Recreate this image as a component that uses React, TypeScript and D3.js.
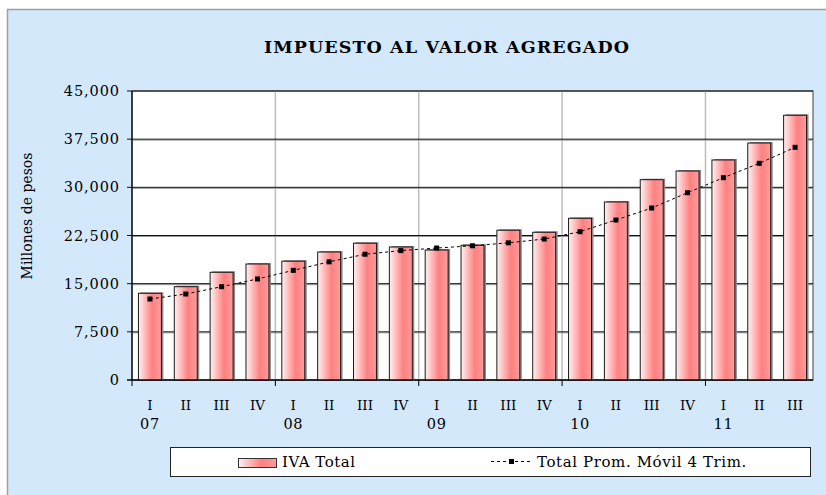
import React from 'react';
import * as d3 from 'd3';

const quarters = ['I', 'II', 'III', 'IV', 'I', 'II', 'III', 'IV', 'I', 'II', 'III', 'IV', 'I', 'II', 'III', 'IV', 'I', 'II', 'III'];
const yearLabels = ['07', '', '', '', '08', '', '', '', '09', '', '', '', '10', '', '', '', '11', '', ''];
const ivaTotal = [13500, 14530, 16770, 18060, 18500, 19930, 21300, 20710, 20240, 20980, 23320, 23000, 25180, 27720, 31190, 32540, 34260, 36900, 41220];
const movAvg = [12610, 13390, 14530, 15730, 17070, 18400, 19580, 20150, 20550, 20900, 21360, 21950, 23090, 24910, 26780, 29160, 31500, 33740, 36230];
const yTicks = [0, 7500, 15000, 22500, 30000, 37500, 45000];

const W = 826;
const H = 495;
const plot = { left: 132, right: 813, top: 91, bottom: 380 };
const font = '"DejaVu Serif", serif';

export default function App() {
  const idx = quarters.map((_, i) => i);
  const x = d3.scaleBand<number>()
    .domain(idx)
    .range([plot.left, plot.right])
    .paddingInner(0.36)
    .paddingOuter(0.18);
  const y = d3.scaleLinear().domain([0, 45000]).range([plot.bottom, plot.top]);
  const fmt = d3.format(',');
  const cx = (i: number) => (x(i) as number) + x.bandwidth() / 2;

  const line = d3.line<number>()
    .x((_, i) => cx(i))
    .y(d => y(d));

  // year boundaries (every 4 quarters)
  const yearEdges = idx.filter(i => i % 4 === 0 && i > 0).map(i => (x(i) as number) - x.step() * x.paddingInner() / 2);

  return (
    <svg width={W} height={H} style={{ position: 'absolute', left: 0, top: 0 }}>
      <defs>
        <linearGradient id="barGrad" x1="0" x2="1" y1="0" y2="0">
          <stop offset="0%" stopColor="#FFF2F2" />
          <stop offset="60%" stopColor="#FF8080" />
          <stop offset="100%" stopColor="#FF9C9C" />
        </linearGradient>
      </defs>
      <rect x={0} y={0} width={W} height={H} fill="#fff" />
      <rect x={7.5} y={9.5} width={W} height={H} fill="#D4E8FC" stroke="#A0A0A0" strokeWidth={1.5} />

      <text x={447} y={53} textAnchor="middle" fontFamily={font} fontWeight="bold" fontSize={17.5} letterSpacing={1.1}>
        IMPUESTO AL VALOR AGREGADO
      </text>

      {/* plot area */}
      <rect x={plot.left} y={plot.top} width={plot.right - plot.left} height={plot.bottom - plot.top} fill="#fff" stroke="#404040" strokeWidth={1} />

      {yearEdges.map((ex, i) => (
        <line key={'v' + i} x1={ex} x2={ex} y1={plot.top} y2={plot.bottom} stroke="#BDBDBD" strokeWidth={1.5} />
      ))}

      {yTicks.map(t => (
        <g key={t}>
          {t > 0 && t < 45000 && (
            <line x1={plot.left} x2={plot.right} y1={y(t) + 1} y2={y(t) + 1} stroke="#9A9A9A" strokeWidth={1} />
          )}
          <line x1={plot.left - 5} x2={plot.right} y1={y(t)} y2={y(t)} stroke="#111" strokeWidth={1} />
          <text x={plot.left - 12} y={y(t)} dy="0.35em" textAnchor="end" fontFamily={font} fontSize={14.5} letterSpacing={0.9}>
            {fmt(t)}
          </text>
        </g>
      ))}

      {ivaTotal.map((v, i) => (
        <g key={'b' + i}>
          <rect x={(x(i) as number) + 2} y={y(v) - 1} width={x.bandwidth()} height={y(0) - y(v) + 1} fill="#8A8A8A" />
          <rect x={x(i) as number} y={y(v)} width={x.bandwidth()} height={y(0) - y(v)} fill="url(#barGrad)" stroke="#1a1a1a" strokeWidth={1} />
        </g>
      ))}

      {/* axes */}
      <line x1={plot.left} x2={plot.left} y1={plot.top} y2={plot.bottom} stroke="#000" strokeWidth={1.2} />
      <line x1={plot.left - 5} x2={plot.right} y1={plot.bottom} y2={plot.bottom} stroke="#000" strokeWidth={1.2} />
      {[plot.left, ...yearEdges].map((ex, i) => (
        <line key={'xt' + i} x1={ex} x2={ex} y1={plot.bottom} y2={plot.bottom + 6} stroke="#000" strokeWidth={1} />
      ))}

      <path d={line(movAvg) || ''} fill="none" stroke="#000" strokeWidth={1} strokeDasharray="3,3" />
      {movAvg.map((v, i) => (
        <rect key={'m' + i} x={cx(i) - 2.5} y={y(v) - 2.5} width={5} height={5} fill="#000" />
      ))}

      {quarters.map((q, i) => (
        <text key={'q' + i} x={cx(i)} y={410} textAnchor="middle" fontFamily={font} fontSize={13.5}>{q}</text>
      ))}
      {yearLabels.map((yl, i) => yl ? (
        <text key={'y' + i} x={cx(i)} y={429} textAnchor="middle" fontFamily={font} fontSize={14.5} letterSpacing={0.6}>{yl}</text>
      ) : null)}

      <text transform={`translate(32,${216}) rotate(-90)`} textAnchor="middle" fontFamily={font} fontSize={14}>
        Millones de pesos
      </text>

      {/* legend */}
      <rect x={170.5} y={447.5} width={640} height={29} fill="#fff" stroke="#222" strokeWidth={1} />
      <rect x={238.5} y={458.5} width={38} height={9} fill="url(#barGrad)" stroke="#333" strokeWidth={1} />
      <text x={282} y={467} fontFamily={font} fontSize={15} letterSpacing={0.5}>IVA Total</text>
      <line x1={491} x2={532} y1={461.5} y2={461.5} stroke="#000" strokeWidth={1} strokeDasharray="3,3" />
      <rect x={509} y={459} width={5} height={5} fill="#000" />
      <text x={537} y={467} fontFamily={font} fontSize={15} letterSpacing={0.6}>Total Prom. Móvil 4 Trim.</text>
    </svg>
  );
}
